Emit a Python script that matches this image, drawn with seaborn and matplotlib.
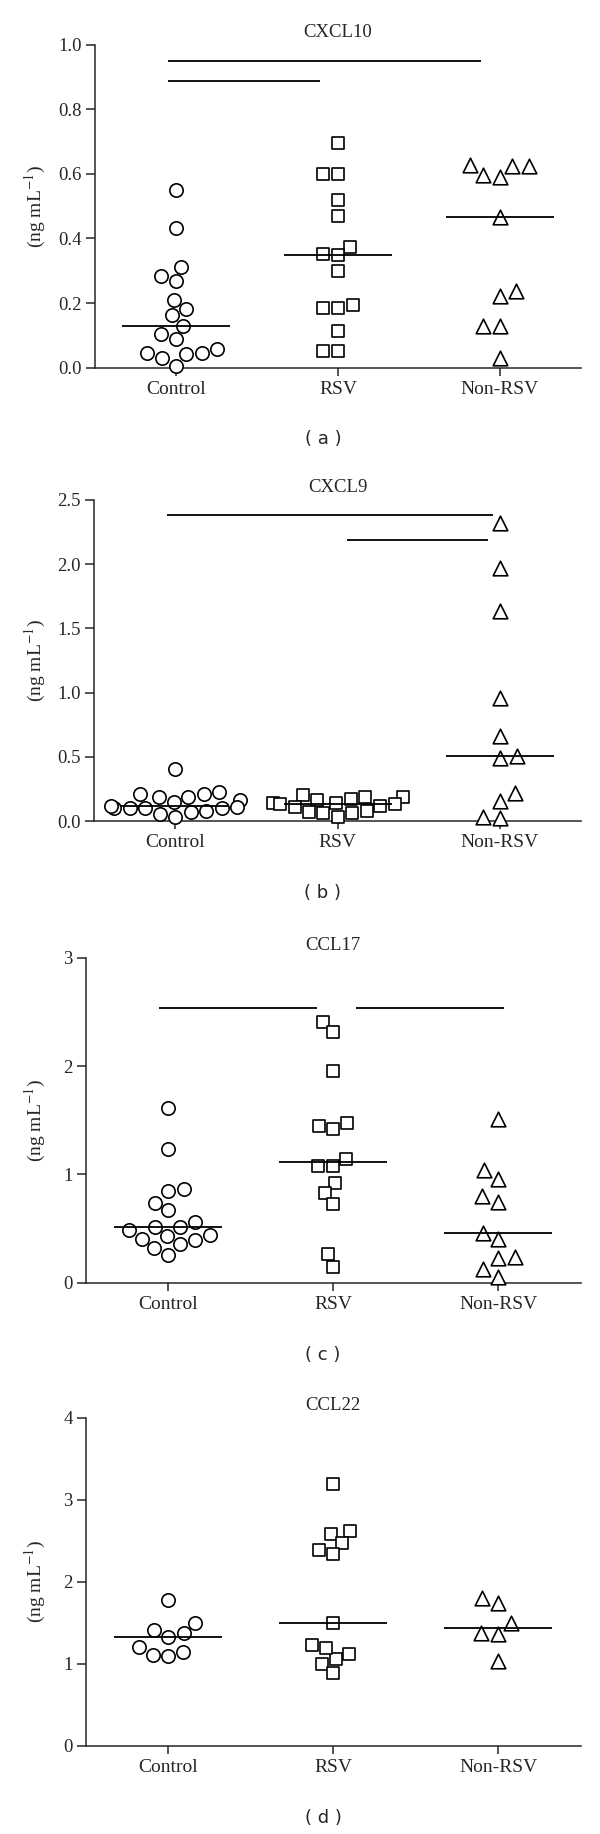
import numpy as np
import pandas as pd
import matplotlib
matplotlib.use("Agg")
import matplotlib.pyplot as plt
import seaborn as sns

# groups on the x axis
groups = ["Control", "RSV", "Non-RSV"]

# (a) CXCL10, ng/mL
cxcl10_control = [0.549, 0.433, 0.285, 0.267, 0.311, 0.210, 0.162, 0.182, 0.130,
                  0.105, 0.089, 0.058, 0.044, 0.041, 0.029, 0.044, 0.006]
cxcl10_rsv = [0.695, 0.599, 0.599, 0.518, 0.471, 0.375, 0.348, 0.352, 0.298,
              0.194, 0.186, 0.186, 0.112, 0.050, 0.052]
cxcl10_nonrsv = [0.626, 0.626, 0.590, 0.597, 0.628, 0.466, 0.222, 0.236, 0.130,
                 0.129, 0.031]

# (b) CXCL9
cxcl9_control = [0.404, 0.207, 0.189, 0.189, 0.207, 0.228, 0.150, 0.163, 0.104,
                 0.119, 0.067, 0.104, 0.111, 0.104, 0.054, 0.098, 0.078, 0.034]
cxcl9_rsv = [0.20, 0.19, 0.19, 0.14, 0.17, 0.16, 0.14, 0.13, 0.08, 0.06, 0.03,
             0.06, 0.07, 0.12, 0.11, 0.13]
cxcl9_nonrsv = [2.324, 1.967, 1.633, 0.958, 0.660, 0.487, 0.507, 0.215, 0.158,
                0.026, 0.034]

# (c) CCL17
ccl17_control = [1.617, 1.234, 0.847, 0.862, 0.740, 0.670, 0.563, 0.512, 0.487,
                 0.518, 0.405, 0.445, 0.436, 0.396, 0.353, 0.320, 0.259]
ccl17_rsv = [2.409, 2.318, 1.952, 1.480, 1.419, 1.450, 1.145, 1.081, 1.081,
             0.923, 0.832, 0.725, 0.268, 0.146]
ccl17_nonrsv = [1.511, 1.039, 0.959, 0.801, 0.749, 0.460, 0.405, 0.228, 0.238,
                0.122, 0.055]

# (d) CCL22
ccl22_control = [1.776, 1.492, 1.370, 1.329, 1.411, 1.199, 1.146, 1.093, 1.102]
ccl22_rsv = [3.199, 2.589, 2.622, 2.476, 2.386, 2.337, 1.492, 1.228, 1.053,
             1.187, 0.996, 1.118, 0.882]
ccl22_nonrsv = [1.797, 1.744, 1.500, 1.370, 1.362, 1.033]

# significance bars: (y, x start, x end) in category units
sig_a = [(0.951, -0.05, 1.88), (0.888, -0.05, 0.89)]
sig_b = [(2.381, -0.05, 1.955), (2.189, 1.06, 1.925)]
sig_c = [(2.540, -0.053, 0.898), (2.540, 1.14, 2.036)]
sig_d = []

yticks_a = [0.0, 0.2, 0.4, 0.6, 0.8, 1.0]
yticks_b = [0.0, 0.5, 1.0, 1.5, 2.0, 2.5]
yticks_c = [0, 1, 2, 3]
yticks_d = [0, 1, 2, 3, 4]

sns.set_style("ticks")
plt.rcParams["font.family"] = ["Liberation Serif", "DejaVu Serif"]
plt.rcParams["mathtext.fontset"] = "stix"

W, H = 600, 1834
fig = plt.figure(figsize=(6, 18.34), dpi=100)

markers = ["o", "s", "^"]
sizes = [9.6, 9.0, 10.5]


def panel(box, title, letter, values, yticks, fmt, bars):
    left, right, top, bottom = box
    ax = fig.add_axes([left / W, 1 - bottom / H, (right - left) / W, (bottom - top) / H])

    df = pd.DataFrame({
        "group": np.repeat(groups, [len(v) for v in values]),
        "value": np.concatenate(values),
    })
    for g, m, s in zip(groups, markers, sizes):
        sns.swarmplot(data=df[df["group"] == g], x="group", y="value", order=groups,
                      marker=m, size=s, color="white", edgecolor="black",
                      linewidth=1.2, ax=ax, zorder=3, warn_thresh=1)
    for c in ax.collections:
        c.set_clip_on(False)

    # median lines
    sns.pointplot(data=df, x="group", y="value", order=groups, estimator="median",
                  errorbar=None, color="black", marker="_", markersize=78,
                  markeredgewidth=1.3, linestyle="none", ax=ax, zorder=4)

    for y, x0, x1 in bars:
        ax.hlines(y, x0, x1, color="black", lw=1.3, zorder=2)

    ax.set_xlim(-0.5, 2.5)
    ax.set_ylim(yticks[0], yticks[-1])
    ax.set_yticks(yticks)
    ax.set_yticklabels([fmt.format(v) for v in yticks])
    ax.set_xlabel("")
    ax.set_ylabel("")
    ax.set_title(title, fontsize=13.5, pad=6)
    sns.despine(ax=ax)
    for sp in ["left", "bottom"]:
        ax.spines[sp].set_linewidth(1.1)
    ax.tick_params(axis="y", length=6.5, width=1.1, pad=3, labelsize=13.5)
    ax.tick_params(axis="x", length=5.5, width=1.1, pad=4, labelsize=14)

    fig.text(35 / W, 1 - (top + bottom) / 2 / H, "(ng mL$^{-1}$)", rotation=90,
             ha="center", va="center", fontsize=14)
    fig.text(323 / W, 1 - (bottom + 72) / H, letter, ha="center", va="center",
             fontsize=13, family="DejaVu Sans")
    return ax


panel((95, 581, 45, 367.5), "CXCL10", "( a )",
      [cxcl10_control, cxcl10_rsv, cxcl10_nonrsv], yticks_a, "{:.1f}", sig_a)
panel((94.3, 581, 500, 821), "CXCL9", "( b )",
      [cxcl9_control, cxcl9_rsv, cxcl9_nonrsv], yticks_b, "{:.1f}", sig_b)
panel((85.7, 581, 958, 1282.7), "CCL17", "( c )",
      [ccl17_control, ccl17_rsv, ccl17_nonrsv], yticks_c, "{:d}", sig_c)
panel((85.7, 581, 1418, 1745.7), "CCL22", "( d )",
      [ccl22_control, ccl22_rsv, ccl22_nonrsv], yticks_d, "{:d}", sig_d)

fig.savefig("out.png", dpi=100)
